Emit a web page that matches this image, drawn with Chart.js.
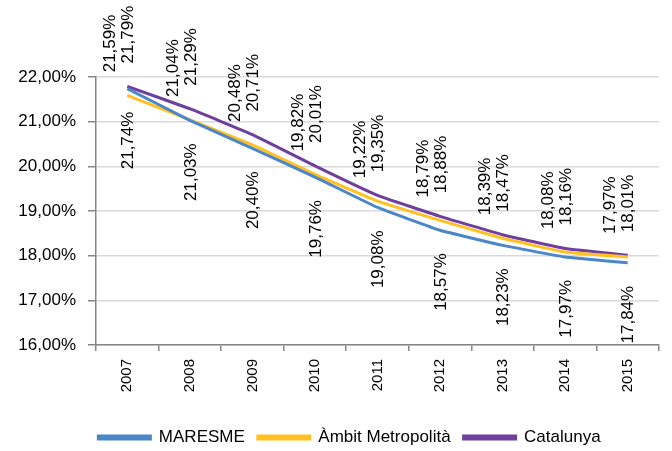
<!DOCTYPE html>
<html lang="ca">
<head>
    <meta charset="UTF-8">
    <title>Evolució 2007-2015</title>
    <script src="https://cdn.jsdelivr.net/npm/chart.js@4.4.1/dist/chart.umd.min.js"></script>
    <style>
        html, body { margin: 0; padding: 0; background: #fff; }
        .wrap { width: 672px; height: 451px; }
    </style>
</head>
<body>
    <div class="wrap"><canvas id="chart" width="672" height="451"></canvas></div>

    <script>
        // Dades llegides del gràfic (%)
        const years = ['2007', '2008', '2009', '2010', '2011', '2012', '2013', '2014', '2015'];
        const maresme = [21.74, 21.03, 20.40, 19.76, 19.08, 18.57, 18.23, 17.97, 17.84];
        const ambitMetropolita = [21.59, 21.04, 20.48, 19.82, 19.22, 18.79, 18.39, 18.08, 17.97];
        const catalunya = [21.79, 21.29, 20.71, 20.01, 19.35, 18.88, 18.47, 18.16, 18.01];

        const fmt = v => v.toFixed(2).replace('.', ',') + '%';
        const mainFont = "'Liberation Sans', Arial, sans-serif";

        // etiquetes de dades girades 90 graus
        const rotatedLabels = {
            id: 'rotatedLabels',
            afterDatasetsDraw(chart) {
                const ctx = chart.ctx;
                ctx.save();
                ctx.font = '17px ' + mainFont;
                ctx.fillStyle = '#000';
                ctx.textBaseline = 'middle';
                chart.data.datasets.forEach((ds, i) => {
                    const meta = chart.getDatasetMeta(i);
                    meta.data.forEach((pt, j) => {
                        const txt = fmt(ds.data[j]);
                        ctx.save();
                        if (ds.labelPos === 'below') {
                            ctx.translate(pt.x + ds.labelDx, pt.y + 23);
                            ctx.rotate(-Math.PI / 2);
                            ctx.textAlign = 'right';
                        } else {
                            ctx.translate(pt.x + ds.labelDx, pt.y - 23);
                            ctx.rotate(-Math.PI / 2);
                            ctx.textAlign = 'left';
                        }
                        ctx.fillText(txt, 0, 1);
                        ctx.restore();
                    });
                });
                ctx.restore();
            }
        };

        // la llegenda va una mica desplaçada a la dreta i avall
        const moveLegend = {
            id: 'moveLegend',
            afterLayout(chart) {
                const lg = chart.legend;
                lg.left += 20; lg.right += 20;
                lg.top += 9; lg.bottom += 9;
            }
        };

        new Chart(document.getElementById('chart'), {
            type: 'line',
            data: {
                labels: years,
                datasets: [
                    { label: 'MARESME', data: maresme, borderColor: '#4a86c8', backgroundColor: '#4a86c8', labelPos: 'below', labelDx: 0 },
                    { label: 'Àmbit Metropolità', data: ambitMetropolita, borderColor: '#ffc020', backgroundColor: '#ffc020', labelPos: 'above', labelDx: -18 },
                    { label: 'Catalunya', data: catalunya, borderColor: '#6f3f9f', backgroundColor: '#6f3f9f', labelPos: 'above', labelDx: 0 }
                ]
            },
            options: {
                responsive: false,
                animation: false,
                devicePixelRatio: 1,
                elements: {
                    line: { borderWidth: 3, tension: 0.1 },
                    point: { radius: 0 }
                },
                layout: { padding: { left: 0, right: 13, top: 77, bottom: 4 } },
                plugins: {
                    tooltip: { enabled: false },
                    legend: {
                        position: 'bottom',
                        labels: {
                            boxWidth: 52,
                            boxHeight: 3,
                            padding: 13,
                            color: '#000',
                            font: { family: mainFont, size: 17 }
                        }
                    }
                },
                scales: {
                    x: {
                        offset: true,
                        grid: { display: true, drawOnChartArea: false, offset: true, tickLength: 6, color: '#868686', lineWidth: 1.5 },
                        border: { color: '#868686', width: 1.5 },
                        ticks: {
                            minRotation: 90, maxRotation: 90, padding: 8,
                            color: '#000',
                            font: { family: mainFont, size: 15 }
                        },
                        afterFit(scale) { scale.height = 62; }
                    },
                    y: {
                        min: 16, max: 22,
                        ticks: {
                            stepSize: 1, padding: 12, color: '#000',
                            font: { family: mainFont, size: 17 },
                            callback: v => fmt(v)
                        },
                        grid: { color: '#d9d9d9', lineWidth: 1.5, tickColor: '#868686', tickLength: 8 },
                        border: { color: '#868686', width: 1.5 },
                        afterFit(scale) { scale.width = 96; }
                    }
                }
            },
            plugins: [rotatedLabels, moveLegend]
        });
    </script>
</body>
</html>
